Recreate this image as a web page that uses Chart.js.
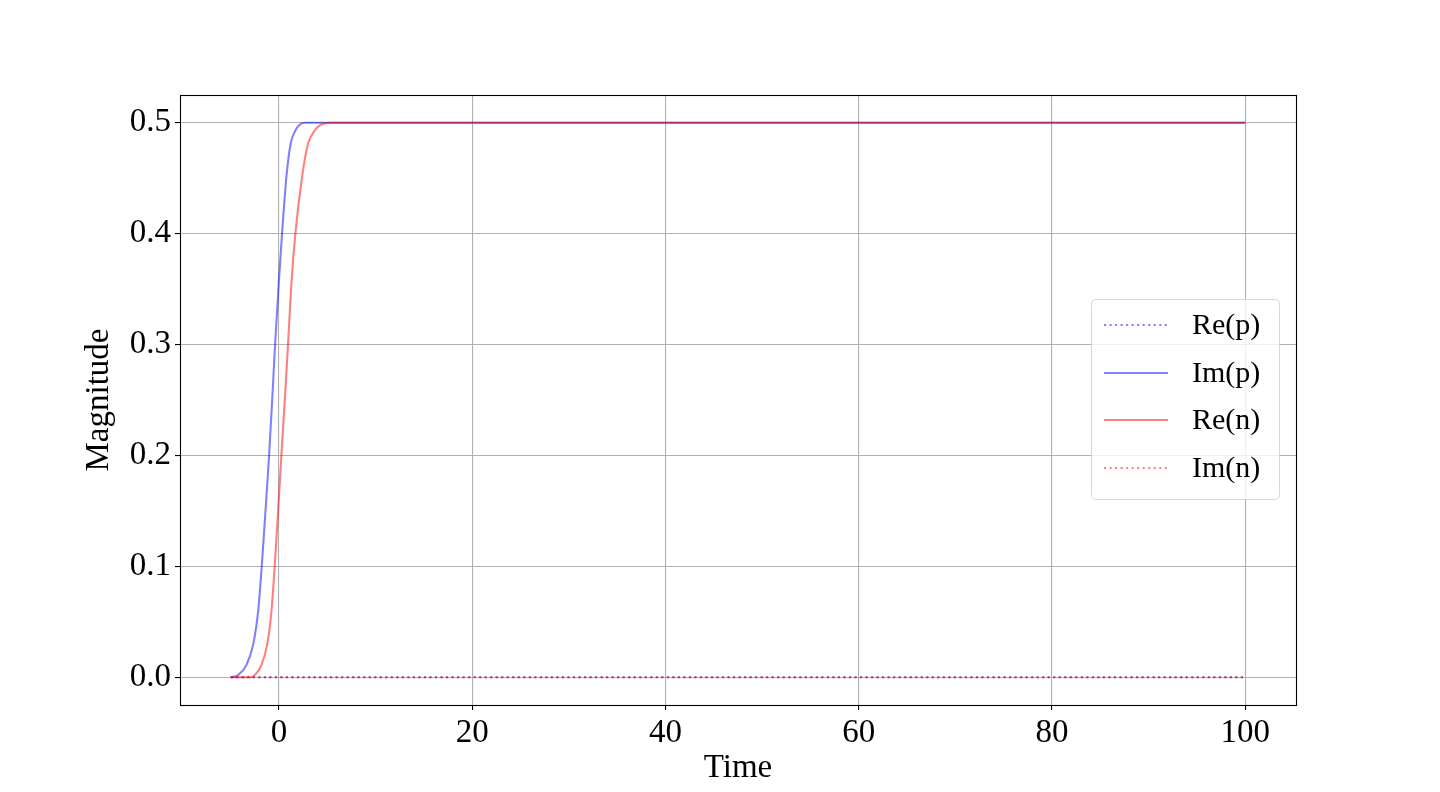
<!DOCTYPE html>
<html>
<head>
<meta charset="utf-8">
<script src="https://cdn.jsdelivr.net/npm/chart.js@4/dist/chart.umd.min.js"></script>
<style>
html,body{margin:0;padding:0;background:#fff;}
#wrap{width:1440px;height:792px;position:relative;}
</style>
</head>
<body>
<div id="wrap"><canvas id="c" width="1440" height="792"></canvas></div>
<script>
// ---- data ----
const timeImP = [-5, -4.24, -3.38, -2.69, -2.17, -1.79, -1.41, -1.03, -0.69, -0.41, -0.03, 0.31, 0.76, 1.2, 1.69, 2.1, 2.65, 100];
const imP     = [0, 0.002, 0.011, 0.029, 0.059, 0.1, 0.149, 0.2, 0.253, 0.3, 0.355, 0.4, 0.451, 0.481, 0.493, 0.498, 0.5, 0.5];
const timeReN = [-5, -3, -2.5, -1.83, -1.24, -0.79, -0.45, -0.1, 0.24, 0.62, 0.93, 1.28, 1.69, 2.38, 3.0, 3.69, 4.3, 5.2, 100];
const reN     = [0, 0, 0.002, 0.011, 0.029, 0.059, 0.1, 0.149, 0.2, 0.253, 0.3, 0.355, 0.4, 0.451, 0.481, 0.493, 0.498, 0.5, 0.5];
const timeFlat = [-5, 100];
const reP = [0, 0];
const imN = [0, 0];
const seriesLabels = ["Re(p)", "Im(p)", "Re(n)", "Im(n)"];
const xTicks = [0, 20, 40, 60, 80, 100];
const yTicks = [0.0, 0.1, 0.2, 0.3, 0.4, 0.5];
const xLabel = "Time";
const yLabel = "Magnitude";

const pts = (xs, ys) => xs.map((x, i) => ({x: x, y: ys[i]}));
const SERIF = "'Liberation Serif', 'DejaVu Serif', serif";
const BLUE = 'rgba(0,0,255,0.5)';
const RED = 'rgba(255,0,0,0.5)';
const LW = 2.08;
const DOT = [2.08, 3.44];

const framePlugin = {
  id: 'frame',
  afterDatasetsDraw(chart) {
    const a = chart.chartArea, ctx = chart.ctx;
    ctx.save();
    ctx.strokeStyle = '#000';
    ctx.lineWidth = 1.1;
    ctx.strokeRect(Math.round(a.left) + 0.5, Math.round(a.top) + 0.5, Math.round(a.right - a.left), Math.round(a.bottom - a.top));
    ctx.restore();
  }
};

const legendPlugin = {
  id: 'mplLegend',
  afterDraw(chart) {
    const ctx = chart.ctx;
    const bx = 1091.5, by = 299.5, bw = 188, bh = 200, r = 5;
    ctx.save();
    ctx.beginPath();
    ctx.moveTo(bx + r, by);
    ctx.lineTo(bx + bw - r, by);
    ctx.quadraticCurveTo(bx + bw, by, bx + bw, by + r);
    ctx.lineTo(bx + bw, by + bh - r);
    ctx.quadraticCurveTo(bx + bw, by + bh, bx + bw - r, by + bh);
    ctx.lineTo(bx + r, by + bh);
    ctx.quadraticCurveTo(bx, by + bh, bx, by + bh - r);
    ctx.lineTo(bx, by + r);
    ctx.quadraticCurveTo(bx, by, bx + r, by);
    ctx.closePath();
    ctx.fillStyle = 'rgba(255,255,255,0.8)';
    ctx.fill();
    ctx.strokeStyle = 'rgba(204,204,204,0.8)';
    ctx.lineWidth = 1;
    ctx.stroke();
    const rows = [325, 373, 420, 468];
    const legendOrder = [0, 1, 2, 3];
    legendOrder.forEach((di, k) => {
      const ds = chart.data.datasets.find(d => d.label === seriesLabels[di]);
      const y = rows[k];
      ctx.beginPath();
      ctx.setLineDash(ds.borderDash || []);
      ctx.strokeStyle = ds.borderColor;
      ctx.lineWidth = ds.borderWidth;
      ctx.moveTo(1104, y);
      ctx.lineTo(1168, y);
      ctx.stroke();
      ctx.setLineDash([]);
      ctx.fillStyle = '#000';
      ctx.font = "30px " + SERIF;
      ctx.textBaseline = 'middle';
      ctx.textAlign = 'left';
      ctx.fillText(ds.label, 1192, y + 1);
    });
    ctx.restore();
  }
};

new Chart(document.getElementById('c'), {
  type: 'line',
  data: {
    datasets: [
      {label: seriesLabels[0], data: pts(timeFlat, reP), borderColor: BLUE, borderWidth: LW, borderDash: DOT, pointRadius: 0, order: 3},
      {label: seriesLabels[1], data: pts(timeImP, imP), borderColor: BLUE, borderWidth: LW, pointRadius: 0, cubicInterpolationMode: 'monotone', order: 2},
      {label: seriesLabels[2], data: pts(timeReN, reN), borderColor: RED, borderWidth: LW, pointRadius: 0, cubicInterpolationMode: 'monotone', order: 1},
      {label: seriesLabels[3], data: pts(timeFlat, imN), borderColor: RED, borderWidth: LW, borderDash: DOT, pointRadius: 0, order: 0}
    ]
  },
  options: {
    responsive: false,
    devicePixelRatio: 1,
    animation: false,
    layout: {padding: {left: 0, top: 95, right: 144, bottom: 0}},
    plugins: {legend: {display: false}, tooltip: {enabled: false}},
    scales: {
      x: {
        type: 'linear',
        min: -10.25, max: 105.25,
        afterBuildTicks: s => { s.ticks = xTicks.map(v => ({value: v})); },
        afterFit: s => { s.height = 87; },
        grid: {color: '#b0b0b0', lineWidth: 1.1, tickColor: '#000', tickLength: 5, tickWidth: 1.1},
        border: {display: false},
        ticks: {color: '#000', font: {family: SERIF, size: 33}, padding: 4, maxRotation: 0, autoSkip: false,
                callback: v => String(v)},
        title: {display: true, text: xLabel, color: '#000', font: {family: SERIF, size: 33, lineHeight: 1.2}, padding: {top: 0, bottom: 4}}
      },
      y: {
        type: 'linear',
        min: -0.025, max: 0.525,
        afterBuildTicks: s => { s.ticks = yTicks.map(v => ({value: v})); },
        afterFit: s => { s.width = 180; },
        grid: {color: '#b0b0b0', lineWidth: 1.1, tickColor: '#000', tickLength: 5, tickWidth: 1.1},
        border: {display: false},
        ticks: {color: '#000', font: {family: SERIF, size: 33}, padding: 4, autoSkip: false,
                callback: v => Number(v).toFixed(1)},
        title: {display: true, text: yLabel, color: '#000', font: {family: SERIF, size: 33, lineHeight: 1.2}, padding: {top: 80, bottom: 0}}
      }
    }
  },
  plugins: [framePlugin, legendPlugin]
});
</script>
</body>
</html>
